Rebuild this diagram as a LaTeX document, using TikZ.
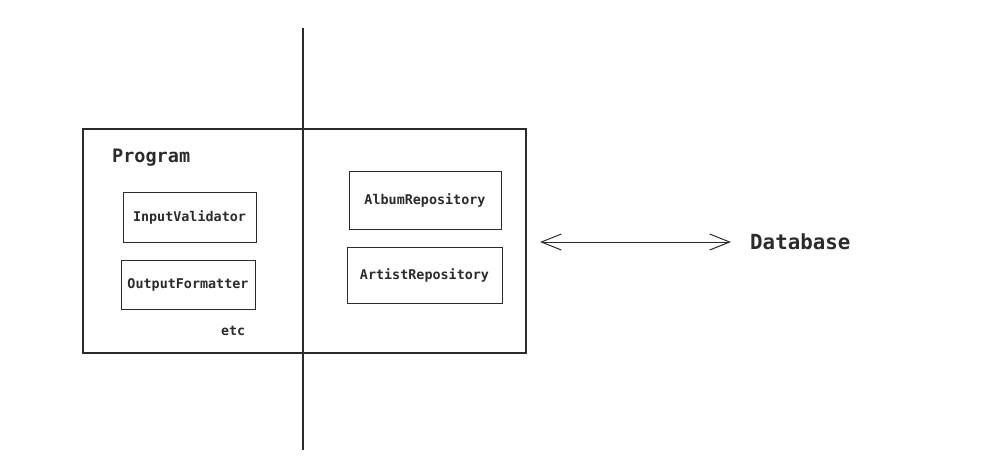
\documentclass[tikz,border=0pt]{standalone}
\usepackage{fontspec}
\setmonofont{DejaVu Sans Mono}
\usetikzlibrary{arrows.meta}
\definecolor{ink}{HTML}{2B2B2B}
\begin{document}
\begin{tikzpicture}[x=1pt,y=-1pt,
  lbl/.style={font=\ttfamily\bfseries, text=ink, inner sep=0pt},
  boxlbl/.style={lbl, font=\ttfamily\bfseries\fontsize{13.4}{15}\selectfont},
  comp/.style={draw=ink, line width=1pt},
  frame/.style={draw=ink, line width=1.2pt}]
\useasboundingbox (0,0) rectangle (995,456);
\draw[frame] (83,129) rectangle (526,353);
\coordinate (ltop) at (303,28);
\coordinate (lbot) at (303,450);
\draw[frame] (ltop) -- (lbot);
\node[comp, minimum width=133pt, minimum height=50pt] (iv) at (189.5,217) {};
\node[boxlbl] at (iv) {InputValidator};
\node[comp, minimum width=134pt, minimum height=49pt] (of) at (188,284.5) {};
\node[boxlbl] at (of) {OutputFormatter};
\node[comp, minimum width=152pt, minimum height=58pt] (ar) at (425,200) {};
\node[boxlbl] at (ar) {AlbumRepository};
\node[comp, minimum width=155pt, minimum height=56pt] (rr) at (424.5,275) {};
\node[boxlbl] at (rr) {ArtistRepository};
\node[lbl, anchor=west, font=\ttfamily\bfseries\fontsize{18.5}{20}\selectfont] (prog) at (112,158) {Program};
\node[lbl, anchor=west, font=\ttfamily\bfseries\fontsize{13.3}{15}\selectfont] (etc) at (221,331) {etc};
\node[lbl, anchor=west, font=\ttfamily\bfseries\fontsize{20.8}{22}\selectfont] (db) at (750,242) {Database};
\coordinate (aL) at (540,242);
\coordinate (aR) at (731,242);
\draw[draw=ink, line width=1pt, {Straight Barb[length=20pt,width=16pt]}-{Straight Barb[length=20pt,width=16pt]}] (aL) -- (aR);
\end{tikzpicture}
\end{document}
